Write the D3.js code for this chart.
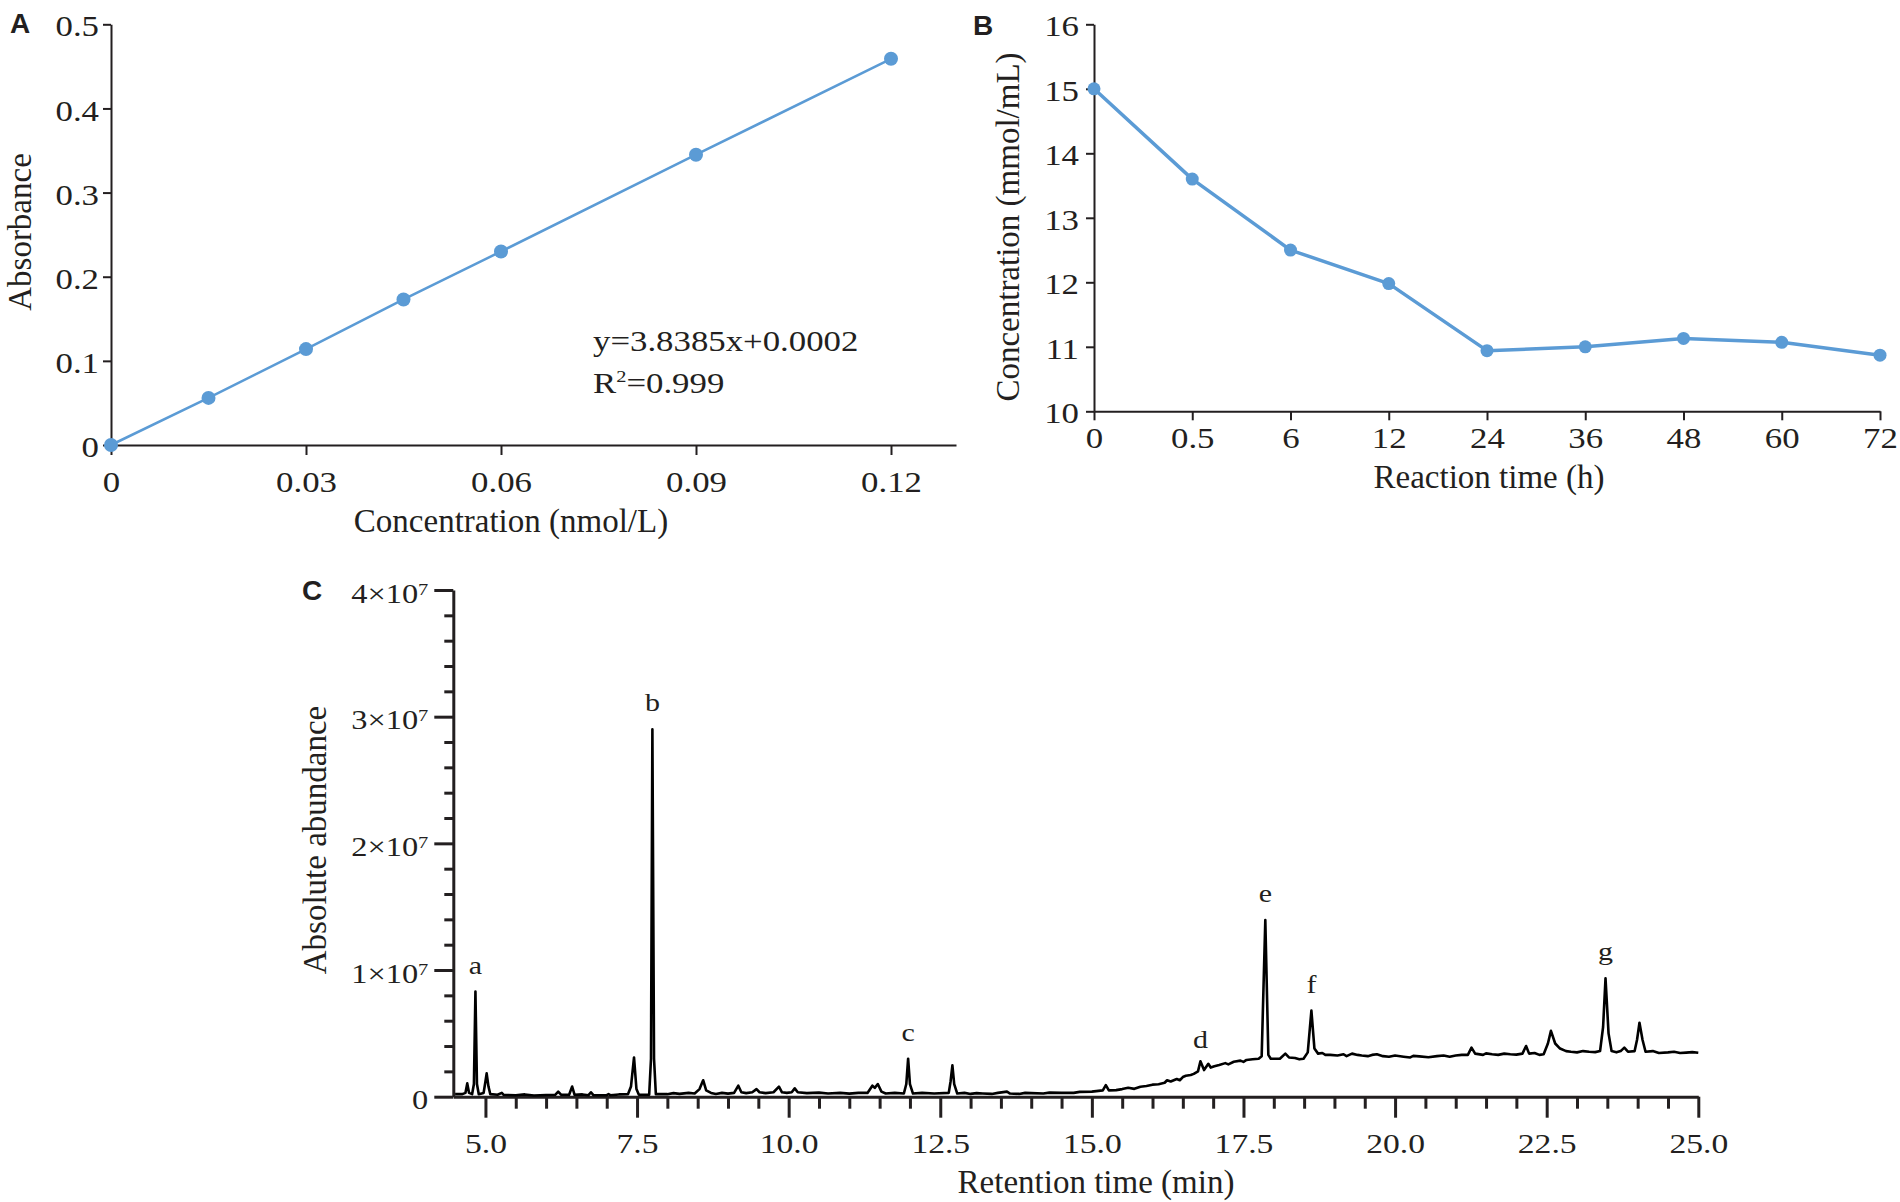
<!DOCTYPE html>
<html>
<head>
<meta charset="utf-8">
<script src="https://cdn.jsdelivr.net/npm/d3@7"></script>
<style>
    html, body { margin: 0; padding: 0; background: #fff; }
    svg { display: block; }
</style>
</head>
<body>
<svg id="chart" width="1900" height="1202"></svg>
<script>
// ---- data ----

// A: standard curve
const concA = [0, 0.015, 0.03, 0.045, 0.06, 0.09, 0.12];
const absA = [0, 0.056, 0.114, 0.173, 0.230, 0.345, 0.459];
const ticksAx = [0, 0.03, 0.06, 0.09, 0.12];
const ticksAy = [0, 0.1, 0.2, 0.3, 0.4, 0.5];

// B: concentration vs reaction time (categories are evenly spaced)
const timesB = ["0", "0.5", "6", "12", "24", "36", "48", "60", "72"];
const concB = [15.0, 13.6, 12.5, 11.98, 10.94, 11.0, 11.13, 11.07, 10.87];
const ticksBy = [10, 11, 12, 13, 14, 15, 16];

// C: chromatogram, [retention time (min), abundance (x10^7)]
const traceC = [
    [4.50, 0.02], [4.62, 0.02], [4.67, 0.03], [4.70, 0.105], [4.73, 0.03], [4.78, 0.02],
    [4.81, 0.10], [4.835, 0.83], [4.86, 0.10], [4.89, 0.02], [4.97, 0.03], [5.00, 0.12],
    [5.02, 0.184], [5.05, 0.08], [5.08, 0.02], [5.20, 0.015], [5.27, 0.03], [5.30, 0.015],
    [5.50, 0.012], [5.65, 0.018], [5.80, 0.01], [6.00, 0.014], [6.15, 0.015], [6.20, 0.04],
    [6.25, 0.015], [6.38, 0.015], [6.43, 0.08], [6.47, 0.015], [6.60, 0.018], [6.70, 0.012],
    [6.74, 0.035], [6.78, 0.012], [7.00, 0.012], [7.03, 0.02], [7.06, 0.012], [7.20, 0.018],
    [7.35, 0.02], [7.40, 0.08], [7.45, 0.31], [7.49, 0.06], [7.53, 0.015], [7.70, 0.015],
    [7.73, 0.3], [7.753, 2.90], [7.78, 0.3], [7.81, 0.02], [8.00, 0.02], [8.10, 0.028],
    [8.20, 0.022], [8.35, 0.03], [8.45, 0.025], [8.53, 0.06], [8.59, 0.13], [8.64, 0.05],
    [8.72, 0.03], [8.80, 0.022], [8.90, 0.03], [9.00, 0.024], [9.10, 0.03], [9.17, 0.087],
    [9.22, 0.035], [9.30, 0.028], [9.40, 0.035], [9.47, 0.06], [9.52, 0.035], [9.62, 0.028],
    [9.75, 0.035], [9.84, 0.08], [9.89, 0.035], [9.97, 0.03], [10.05, 0.035], [10.10, 0.066],
    [10.15, 0.035], [10.30, 0.028], [10.50, 0.032], [10.65, 0.025], [10.85, 0.03],
    [11.00, 0.024], [11.15, 0.03], [11.30, 0.03], [11.38, 0.087], [11.42, 0.07], [11.47, 0.10],
    [11.53, 0.04], [11.60, 0.025], [11.75, 0.03], [11.90, 0.025], [11.94, 0.10], [11.97, 0.30],
    [12.00, 0.10], [12.05, 0.025], [12.20, 0.03], [12.40, 0.025], [12.64, 0.03], [12.67, 0.12],
    [12.70, 0.247], [12.73, 0.10], [12.78, 0.025], [12.90, 0.03], [13.00, 0.022], [13.10, 0.028],
    [13.20, 0.025], [13.35, 0.022], [13.45, 0.03], [13.60, 0.04], [13.65, 0.025], [13.80, 0.022],
    [13.90, 0.03], [14.00, 0.028], [14.20, 0.025], [14.30, 0.032], [14.50, 0.03], [14.70, 0.03],
    [14.80, 0.038], [15.00, 0.04], [15.18, 0.05], [15.23, 0.092], [15.28, 0.05], [15.40, 0.052],
    [15.50, 0.06], [15.60, 0.07], [15.70, 0.062], [15.80, 0.079], [15.90, 0.085], [16.00, 0.095],
    [16.10, 0.098], [16.20, 0.11], [16.24, 0.13], [16.30, 0.12], [16.40, 0.14], [16.45, 0.13],
    [16.50, 0.155], [16.55, 0.165], [16.63, 0.171], [16.68, 0.18], [16.75, 0.20], [16.79, 0.28],
    [16.85, 0.21], [16.92, 0.26], [16.96, 0.23], [17.02, 0.24], [17.10, 0.25], [17.20, 0.265],
    [17.25, 0.255], [17.34, 0.276], [17.45, 0.285], [17.50, 0.275], [17.55, 0.29], [17.65, 0.295],
    [17.75, 0.30], [17.80, 0.32], [17.86, 1.395], [17.91, 0.33], [17.95, 0.30], [18.10, 0.30],
    [18.19, 0.34], [18.25, 0.31], [18.35, 0.305], [18.42, 0.295], [18.49, 0.30], [18.56, 0.35],
    [18.62, 0.68], [18.67, 0.38], [18.73, 0.34], [18.80, 0.345], [18.85, 0.33], [18.93, 0.33],
    [19.05, 0.325], [19.15, 0.335], [19.20, 0.32], [19.29, 0.34], [19.38, 0.33], [19.45, 0.325],
    [19.55, 0.32], [19.62, 0.33], [19.70, 0.335], [19.80, 0.32], [19.90, 0.315], [20.00, 0.325],
    [20.14, 0.316], [20.25, 0.31], [20.30, 0.322], [20.40, 0.318], [20.55, 0.312], [20.69, 0.32],
    [20.80, 0.325], [20.90, 0.315], [21.00, 0.325], [21.10, 0.33], [21.20, 0.33], [21.26, 0.387],
    [21.32, 0.34], [21.45, 0.33], [21.50, 0.342], [21.60, 0.335], [21.70, 0.33], [21.80, 0.34],
    [21.90, 0.335], [22.00, 0.332], [22.10, 0.34], [22.16, 0.40], [22.21, 0.34], [22.30, 0.345],
    [22.38, 0.33], [22.45, 0.335], [22.52, 0.42], [22.57, 0.52], [22.64, 0.42], [22.72, 0.38],
    [22.82, 0.36], [22.90, 0.355], [23.00, 0.35], [23.10, 0.36], [23.20, 0.355], [23.30, 0.352],
    [23.38, 0.36], [23.43, 0.55], [23.47, 0.934], [23.52, 0.50], [23.57, 0.36], [23.65, 0.35],
    [23.72, 0.36], [23.78, 0.387], [23.84, 0.355], [23.95, 0.36], [23.99, 0.45], [24.03, 0.584],
    [24.08, 0.45], [24.13, 0.355], [24.25, 0.36], [24.35, 0.345], [24.50, 0.35], [24.60, 0.355],
    [24.70, 0.345], [24.80, 0.348], [24.90, 0.352], [25.00, 0.347]
];
const peaksC = [
    { name: "a", t: 4.835, v: 0.83 },
    { name: "b", t: 7.753, v: 2.90 },
    { name: "c", t: 11.97, v: 0.30 },
    { name: "d", t: 16.79, v: 0.24 },
    { name: "e", t: 17.86, v: 1.395 },
    { name: "f", t: 18.62, v: 0.68 },
    { name: "g", t: 23.47, v: 0.934 }
];
const ticksCx = [5, 7.5, 10, 12.5, 15, 17.5, 20, 22.5, 25];
const ticksCy = [0, 1, 2, 3, 4];

// ---- drawing ----
const SERIF = "'Liberation Serif', 'Times New Roman', serif";
const SANS = "'Liberation Sans', Arial, sans-serif";
const INK = "#231f20";
const BLUE = "#5b9bd5";
const WIDEN = 1.2; // tick labels in the figure are set wider than plain Times

const svg = d3.select("#chart");
svg.append("rect").attr("width", 1900).attr("height", 1202).attr("fill", "#fff");

/**
 * Applies the figure's look to an axis group: serif labels, dark strokes
 */
function styleAxis(g, strokeWidth, fontSize) {
    g.attr("font-family", SERIF).attr("font-size", fontSize);
    g.selectAll("path.domain").attr("stroke", INK).attr("stroke-width", strokeWidth);
    g.selectAll(".tick line").attr("stroke", INK).attr("stroke-width", strokeWidth);
    g.selectAll(".tick text").attr("fill", INK);
}

/**
 * Stretches text horizontally by k, keeping its anchor point where it was
 */
function widen(texts, k) {
    texts.each(function () {
        const t = d3.select(this);
        const x = +t.attr("x") || 0;
        t.attr("x", x / k).attr("transform", `scale(${k},1)`);
    });
}

function addTitle(x, y, label, rotate) {
    svg.append("text")
        .attr("transform", `translate(${x},${y})` + (rotate ? " rotate(-90)" : ""))
        .attr("text-anchor", "middle")
        .attr("font-family", SERIF)
        .attr("font-size", 33)
        .attr("fill", INK)
        .text(label);
}

function addPanelLetter(x, y, letter) {
    svg.append("text")
        .attr("x", x)
        .attr("y", y)
        .attr("font-family", SANS)
        .attr("font-weight", "bold")
        .attr("font-size", 28)
        .attr("fill", INK)
        .text(letter);
}

// ---------- A ----------
const xA = d3.scaleLinear().domain([0, 0.13]).range([111, 956]);
const yA = d3.scaleLinear().domain([0, 0.5]).range([445, 24.3]);

const axAx = svg.append("g")
    .attr("transform", `translate(0,${yA(0)})`)
    .call(d3.axisBottom(xA)
        .tickValues(ticksAx)
        .tickSize(10)
        .tickSizeOuter(0)
        .tickPadding(16)
        .tickFormat(d => d === 0 ? "0" : d3.format(".2f")(d)));
styleAxis(axAx, 2, 29);
widen(axAx.selectAll(".tick text"), WIDEN);

const axAy = svg.append("g")
    .attr("transform", `translate(${xA(0)},0)`)
    .call(d3.axisLeft(yA)
        .tickValues(ticksAy)
        .tickSize(8)
        .tickSizeOuter(0)
        .tickPadding(4)
        .tickFormat(d => d === 0 ? "0" : d3.format(".1f")(d)));
styleAxis(axAy, 2, 29);
axAy.selectAll(".tick text").attr("dy", "0.4em");
widen(axAy.selectAll(".tick text"), WIDEN);

const pointsA = concA.map((c, i) => [c, absA[i]]);
svg.append("path")
    .datum(pointsA)
    .attr("fill", "none")
    .attr("stroke", BLUE)
    .attr("stroke-width", 2.5)
    .attr("d", d3.line().x(d => xA(d[0])).y(d => yA(d[1])));
svg.append("g")
    .selectAll("circle")
    .data(pointsA)
    .join("circle")
    .attr("cx", d => xA(d[0]))
    .attr("cy", d => yA(d[1]))
    .attr("r", 7)
    .attr("fill", BLUE);

const eq = svg.append("g")
    .attr("font-family", SERIF)
    .attr("font-size", 29)
    .attr("fill", INK);
eq.append("g").attr("transform", "translate(593,351)")
    .append("text").attr("transform", `scale(${WIDEN},1)`)
    .text("y=3.8385x+0.0002");
const r2 = eq.append("g").attr("transform", "translate(593,393)")
    .append("text").attr("transform", `scale(${WIDEN},1)`);
r2.append("tspan").text("R");
r2.append("tspan").attr("font-size", 17).attr("dy", -11).text("2");
r2.append("tspan").attr("dy", 11).text("=0.999");

addTitle(511, 532, "Concentration (nmol/L)");
addTitle(31, 232, "Absorbance", true);
addPanelLetter(10, 33, "A");

// ---------- B ----------
const xB = d3.scalePoint().domain(timesB).range([1094, 1880]);
const yB = d3.scaleLinear().domain([10, 16]).range([411.3, 24.3]);

const axBx = svg.append("g")
    .attr("transform", `translate(0,${yB(10)})`)
    .call(d3.axisBottom(xB).tickSize(9).tickSizeOuter(0).tickPadding(7));
styleAxis(axBx, 2, 29);
widen(axBx.selectAll(".tick text"), WIDEN);

const axBy = svg.append("g")
    .attr("transform", `translate(${xB("0")},0)`)
    .call(d3.axisLeft(yB)
        .tickValues(ticksBy)
        .tickSize(8)
        .tickSizeOuter(0)
        .tickPadding(7)
        .tickFormat(d3.format("d")));
styleAxis(axBy, 2, 29);
axBy.selectAll(".tick text").attr("dy", "0.4em");
widen(axBy.selectAll(".tick text"), WIDEN);

const pointsB = timesB.map((t, i) => [t, concB[i]]);
svg.append("path")
    .datum(pointsB)
    .attr("fill", "none")
    .attr("stroke", BLUE)
    .attr("stroke-width", 3.5)
    .attr("stroke-linejoin", "round")
    .attr("d", d3.line().x(d => xB(d[0])).y(d => yB(d[1])));
svg.append("g")
    .selectAll("circle")
    .data(pointsB)
    .join("circle")
    .attr("cx", d => xB(d[0]))
    .attr("cy", d => yB(d[1]))
    .attr("r", 6.5)
    .attr("fill", BLUE);

addTitle(1489, 488, "Reaction time (h)");
addTitle(1019, 227, "Concentration (mmol/mL)", true);
addPanelLetter(973, 35, "B");

// ---------- C ----------
const xC = d3.scaleLinear().domain([4.47, 25]).range([453.3, 1698.3]);
const yC = d3.scaleLinear().domain([0, 4]).range([1096.7, 590]);

// minor ticks first so the majors sit on top
const minorX = d3.range(5, 25.001, 0.5).filter(v => Math.abs(v / 2.5 - Math.round(v / 2.5)) > 1e-6);
const minorY = d3.range(0.2, 4, 0.2).filter(v => Math.abs(v - Math.round(v)) > 1e-6);

const mCx = svg.append("g")
    .attr("transform", `translate(0,${yC(0)})`)
    .call(d3.axisBottom(xC).tickValues(minorX).tickSize(12).tickFormat(""));
mCx.select("path.domain").remove();
styleAxis(mCx, 3, 10);

const mCy = svg.append("g")
    .attr("transform", `translate(${xC.range()[0]},0)`)
    .call(d3.axisLeft(yC).tickValues(minorY).tickSize(9).tickFormat(""));
mCy.select("path.domain").remove();
styleAxis(mCy, 3, 10);

const axCx = svg.append("g")
    .attr("transform", `translate(0,${yC(0)})`)
    .call(d3.axisBottom(xC)
        .tickValues(ticksCx)
        .tickSize(21)
        .tickSizeOuter(0)
        .tickPadding(15)
        .tickFormat(d3.format(".1f")));
styleAxis(axCx, 3, 28);
widen(axCx.selectAll(".tick text"), WIDEN);

const axCy = svg.append("g")
    .attr("transform", `translate(${xC.range()[0]},0)`)
    .call(d3.axisLeft(yC).tickValues(ticksCy).tickSize(19).tickSizeOuter(0).tickPadding(6));
styleAxis(axCy, 3, 27);
axCy.selectAll(".tick text")
    .attr("dy", "0.45em")
    .each(function (d) {
        const t = d3.select(this);
        t.text(null);
        if (d === 0) {
            t.text("0");
            return;
        }
        t.append("tspan").text(`${d}×10`);
        t.append("tspan").attr("font-size", 17).attr("dy", -8).text("7");
    });
widen(axCy.selectAll(".tick text"), WIDEN);

svg.append("path")
    .datum(traceC)
    .attr("fill", "none")
    .attr("stroke", "#000")
    .attr("stroke-width", 2.6)
    .attr("stroke-linejoin", "round")
    .attr("d", d3.line().x(d => xC(d[0])).y(d => yC(d[1])));

svg.append("g")
    .attr("font-family", SERIF)
    .attr("font-size", 25)
    .attr("fill", INK)
    .selectAll("g")
    .data(peaksC)
    .join("g")
    .attr("transform", d => `translate(${xC(d.t)},${yC(d.v) - 18})`)
    .append("text")
    .attr("text-anchor", "middle")
    .attr("transform", `scale(${WIDEN},1)`)
    .text(d => d.name);

addTitle(1096, 1193, "Retention time (min)");
addTitle(326, 840, "Absolute abundance", true);
addPanelLetter(302, 600, "C");
</script>
</body>
</html>
